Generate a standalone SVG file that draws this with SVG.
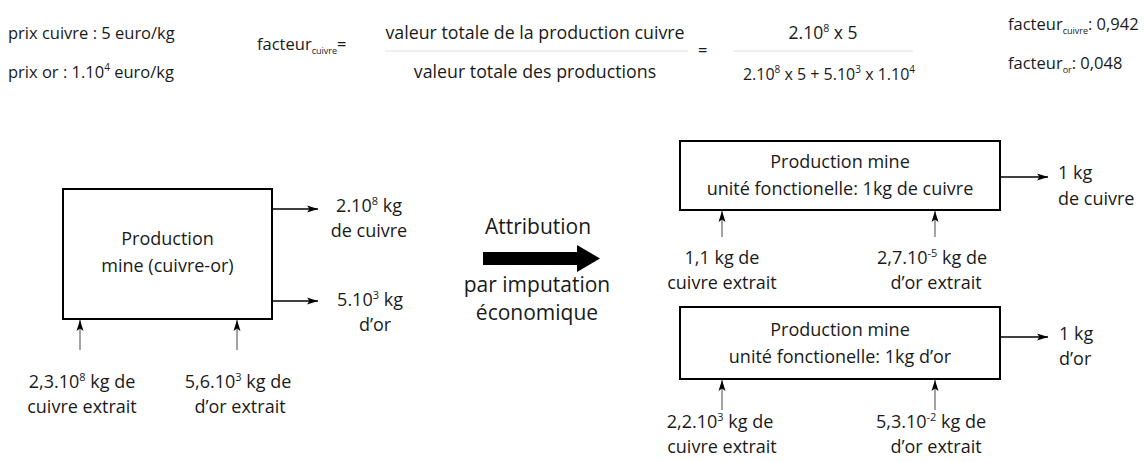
<svg xmlns="http://www.w3.org/2000/svg" width="1145" height="462" viewBox="0 0 1145 462">
<style>
text{font-family:"Open Sans","Noto Sans","Liberation Sans",sans-serif;fill:#1a1a1a}
.t{font-size:16.5px}
.f{font-size:17.8px}
.n{font-size:18px}
.c{text-anchor:middle}
.box{fill:#fff;stroke:#000;stroke-width:2}
.out{stroke:#000;stroke-width:1.4;fill:none}
.in{stroke:#666;stroke-width:1.2;fill:none}
.frac{stroke:#e2e2e2;stroke-width:1.2}
</style>
<defs>
<marker id="ah" markerUnits="userSpaceOnUse" markerWidth="12" markerHeight="8" refX="11" refY="4" orient="auto">
<path d="M0,0.5 L11,4 L0,7.5 L2.5,4 Z" fill="#000"/>
</marker>
</defs>
<rect width="1145" height="462" fill="#fff"/>

<g id="formula">
<text class="t" x="8" y="39">prix cuivre : 5 euro/kg</text>
<text class="t" x="8" y="78">prix or : 1.10<tspan font-size="10" dy="-7">4</tspan><tspan dy="7"> euro/kg</tspan></text>
<text class="t" x="257" y="50">facteur<tspan font-size="9" dy="4">cuivre</tspan><tspan dy="-4">=</tspan></text>
<text class="f c" x="535" y="39">valeur totale de la production cuivre</text>
<line class="frac" x1="385" y1="51" x2="688" y2="51"/>
<text class="f c" x="535" y="78">valeur totale des productions</text>
<text class="t" x="698" y="56">=</text>
<text class="c" font-size="17.5" x="823" y="39">2.10<tspan font-size="10.5" dy="-7">8</tspan><tspan dy="7"> x 5</tspan></text>
<line class="frac" x1="733" y1="51" x2="913" y2="51"/>
<text class="c" font-size="16" x="829" y="80">2.10<tspan font-size="10" dy="-7">8</tspan><tspan dy="7"> x 5 + 5.10</tspan><tspan font-size="10" dy="-7">3</tspan><tspan dy="7"> x 1.10</tspan><tspan font-size="10" dy="-7">4</tspan></text>
<text class="t" x="1008" y="30">facteur<tspan font-size="9" dy="4">cuivre</tspan><tspan dy="-4">: 0,942</tspan></text>
<text class="t" x="1008" y="69">facteur<tspan font-size="9" dy="4">or</tspan><tspan dy="-4">: 0,048</tspan></text>
</g>

<g id="mine">
<rect class="box" x="63" y="189" width="209" height="130"/>
<text class="n c" x="167.5" y="245">Production</text>
<text class="n c" x="167.5" y="272">mine (cuivre-or)</text>
</g>
<g id="out-cuivre">
<text class="n c" x="369" y="212">2.10<tspan font-size="11" dy="-7">8</tspan><tspan dy="7"> kg</tspan></text>
<text class="n c" x="369" y="237">de cuivre</text>
</g>
<g id="out-or">
<text class="n c" x="370" y="306">5.10<tspan font-size="11" dy="-7">3</tspan><tspan dy="7"> kg</tspan></text>
<text class="n c" x="375" y="331">d’or</text>
</g>
<g id="in-cuivre">
<text class="n c" x="82" y="388">2,3.10<tspan font-size="11" dy="-7">8</tspan><tspan dy="7"> kg de</tspan></text>
<text class="n c" x="82" y="413">cuivre extrait</text>
</g>
<g id="in-or">
<text class="n c" x="238" y="388">5,6.10<tspan font-size="11" dy="-7">3</tspan><tspan dy="7"> kg de</tspan></text>
<text class="n c" x="240" y="413">d’or extrait</text>
</g>

<g id="attribution">
<text class="c" font-size="21" x="538" y="234">Attribution</text>
<polygon points="483,252 577,252 577,245 600,258.5 577,272 577,265 483,265" fill="#000"/>
<text class="c" font-size="21" x="537" y="292">par imputation</text>
<text class="c" font-size="21" x="537" y="320">économique</text>
</g>

<g id="mine-cuivre">
<rect class="box" x="680" y="141" width="320" height="69"/>
<text class="n c" x="840" y="168">Production mine</text>
<text class="n c" x="840" y="195">unité fonctionelle: 1kg de cuivre</text>
</g>
<g id="out-1kg-cuivre">
<text class="n" x="1058" y="179">1 kg</text>
<text class="n" x="1058" y="205">de cuivre</text>
</g>
<g id="in-cuivre-1">
<text class="n c" x="722" y="264">1,1 kg de</text>
<text class="n c" x="722" y="289">cuivre extrait</text>
</g>
<g id="in-or-1">
<text class="n c" x="932" y="264">2,7.10<tspan font-size="11" dy="-7">-5</tspan><tspan dy="7"> kg de</tspan></text>
<text class="n c" x="936" y="289">d’or extrait</text>
</g>

<g id="mine-or">
<rect class="box" x="680" y="307" width="320" height="72"/>
<text class="n c" x="840" y="336">Production mine</text>
<text class="n c" x="840" y="363">unité fonctionelle: 1kg d’or</text>
</g>
<g id="out-1kg-or">
<text class="n" x="1059" y="340">1 kg</text>
<text class="n" x="1059" y="365">d’or</text>
</g>
<g id="in-cuivre-2">
<text class="n c" x="720" y="428">2,2.10<tspan font-size="11" dy="-7">3</tspan><tspan dy="7"> kg de</tspan></text>
<text class="n c" x="722" y="453">cuivre extrait</text>
</g>
<g id="in-or-2">
<text class="n c" x="931" y="428">5,3.10<tspan font-size="11" dy="-7">-2</tspan><tspan dy="7"> kg de</tspan></text>
<text class="n c" x="936" y="453">d’or extrait</text>
</g>

<g id="connectors">
<line class="out" x1="272" y1="209" x2="318" y2="209" marker-end="url(#ah)"/>
<line class="out" x1="272" y1="301" x2="318" y2="301" marker-end="url(#ah)"/>
<line class="in" x1="80" y1="350" x2="80" y2="320" marker-end="url(#ah)"/>
<line class="in" x1="237" y1="350" x2="237" y2="320" marker-end="url(#ah)"/>
<line class="out" x1="1000" y1="177" x2="1048" y2="177" marker-end="url(#ah)"/>
<line class="in" x1="722" y1="237" x2="722" y2="211" marker-end="url(#ah)"/>
<line class="in" x1="935" y1="237" x2="935" y2="211" marker-end="url(#ah)"/>
<line class="out" x1="1000" y1="337" x2="1048" y2="337" marker-end="url(#ah)"/>
<line class="in" x1="722" y1="410" x2="722" y2="380" marker-end="url(#ah)"/>
<line class="in" x1="935" y1="410" x2="935" y2="380" marker-end="url(#ah)"/>
</g>
</svg>
